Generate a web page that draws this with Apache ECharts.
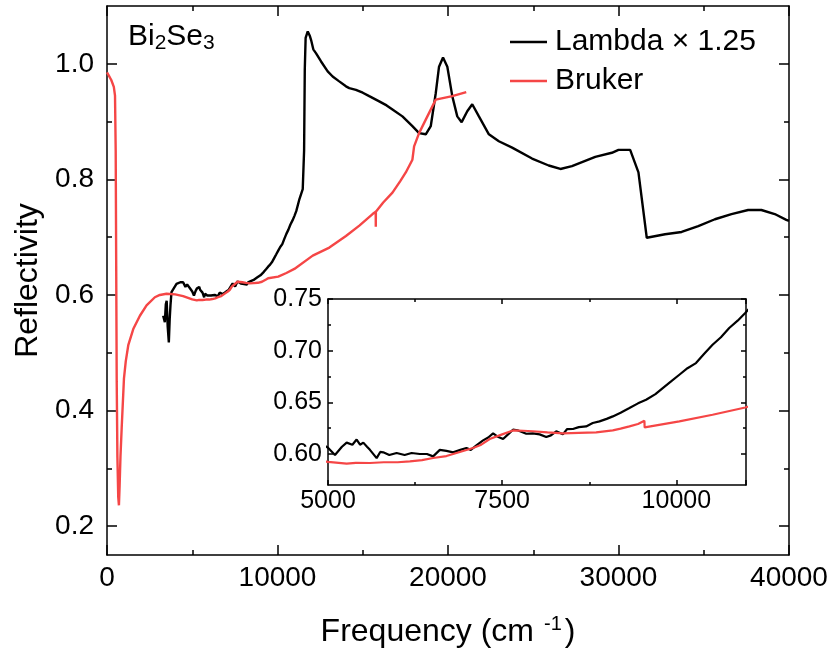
<!DOCTYPE html>
<html><head><meta charset="utf-8">
<script src="https://cdn.jsdelivr.net/npm/echarts@6/dist/echarts.min.js"></script>
<style>html,body{margin:0;padding:0;background:#fff}#c{width:837px;height:656px}</style>
</head><body><div id="c"></div>
<script>
// ---- data ----
const lambdaX = [3294,3392,3450,3500,3560,3626,3680,3723,3782,4076,4300,4464,4600,4700,4854,
 5000,5100,5200,5268,5350,5411,5460,5507,5560,5602,5698,5750,5793,5880,5985,6100,6200,6318,6420,6509,
 6605,6700,6796,6900,6987,7050,7130,7226,7300,7370,7430,7513,7600,7655,7720,7846,7940,8038,8133,8200,
 8276,8371,8430,8515,8600,8705,8800,8897,9000,9088,9200,9327,9450,9566,9700,9805,9920,10043,10160,
 10282,10400,10520,10640,10759,10880,10989,11100,11287,11480,11560,11600,11650,11774,11900,11971,12100,
 12263,12555,12943,13234,13600,14015,14211,14600,15000,15380,15965,16400,16743,17327,17912,18304,18696,
 18988,19281,19474,19708,19961,20251,20544,20800,21130,21422,21813,22398,22982,23762,24930,25906,26591,
 27270,28637,29610,30000,30684,31170,31657,32731,33703,34678,35655,36626,37602,38380,39164,39842,40000];
const lambdaY = [0.564,0.553,0.584,0.590,0.545,0.518,0.560,0.582,0.605,0.619,0.622,0.622,0.614,0.618,0.612,
 0.606,0.599,0.607,0.611,0.609,0.614,0.609,0.611,0.607,0.604,0.596,0.602,0.6016,0.599,0.601,0.599,0.601,0.600,0.600,0.5977,
 0.604,0.603,0.6016,0.604,0.6058,0.604,0.6083,0.6132,0.616,0.620,0.617,0.6145,0.620,0.6235,0.623,0.6196,0.620,0.619,0.6164,0.618,
 0.6219,0.619,0.624,0.6242,0.626,0.6267,0.630,0.6316,0.634,0.6364,0.640,0.6445,0.649,0.6525,0.658,0.6638,0.670,0.6767,0.683,
 0.688,0.697,0.7057,0.713,0.7219,0.729,0.7364,0.745,0.766,0.783,0.850,0.990,1.045,1.056,1.048,1.041,1.025,
 1.018,1.004,0.987,0.978,0.970,0.961,0.958,0.955,0.950,0.944,0.935,0.928,0.921,0.909,0.892,0.880,0.878,
 0.892,0.949,0.995,1.011,0.995,0.944,0.909,0.899,0.918,0.930,0.909,0.878,0.866,0.855,0.836,0.824,0.818,
 0.823,0.839,0.846,0.851,0.851,0.812,0.699,0.705,0.709,0.719,0.731,0.740,0.747,0.747,0.740,0.730,0.728];

const brukerX = [0,100,250,400,470,510,540,570,610,660,700,740,790,860,994,1100,1248,1540,1930,2320,2807,3100,3490,
 4000,4464,5000,5268,5400,5602,5800,6000,6175,6350,6509,6700,6844,7082,7200,7321,7500,7655,7800,7941,8150,8371,
 8600,8849,9088,9200,9327,9450,9542,9545,10043,10520,10989,12066,13041,14015,14800,15575,15760,15765,15770,16200,
 16743,17200,17524,17912,18012,18304,18790,19281,20251,21071];
const brukerY = [0.985,0.980,0.972,0.960,0.945,0.85,0.65,0.45,0.32,0.25,0.236,0.27,0.32,0.369,0.455,0.485,0.513,0.541,0.564,0.582,0.596,0.600,0.602,
 0.601,0.598,0.5923,0.5906,0.5915,0.5913,0.592,0.592,0.5929,0.594,0.5961,0.598,0.601,0.6058,0.609,0.6145,0.619,0.6228,0.6225,0.622,0.621,0.620,
 0.6205,0.621,0.6228,0.6245,0.6267,0.629,0.6322,0.6257,0.6316,0.638,0.645,0.668,0.682,0.702,0.720,0.740,0.744,0.718,0.744,0.760,
 0.777,0.797,0.812,0.834,0.857,0.880,0.909,0.938,0.944,0.951];

const mainYTicks = [0.2,0.4,0.6,0.8,1.0];
const mainYMinor = [0.3,0.5,0.7,0.9];
const insetYTicks = [0.60,0.65,0.70,0.75];
const insetYMinor = [0.625,0.675,0.725];
const seriesNames = ['Lambda \u00d7 1.25','Bruker'];

// ---- chart ----
const FONT = 'Liberation Sans, Arial, sans-serif';
const BLACK = '#000';
const RED = '#f54646';
const lambdaData = lambdaX.map((x,i)=>[x, lambdaY[i]]);
const brukerData = brukerX.map((x,i)=>[x, brukerY[i]]);

function xAx(grid, pos, min, max, interval, opts){
  return Object.assign({
    type:'value', gridIndex:grid, position:pos, min:min, max:max, interval:interval,
    axisLine:{show:true, onZero:false, lineStyle:{color:BLACK, width:1.5}},
    axisTick:{show:true, inside:true, length:opts.tl, lineStyle:{color:BLACK, width:1.5}},
    minorTick:{show:true, splitNumber:2, length:opts.ml, lineStyle:{color:BLACK, width:1.5}},
    splitLine:{show:false}, minorSplitLine:{show:false},
    axisLabel:{show:opts.label, fontSize:opts.fs, color:BLACK, fontFamily:FONT, margin:opts.margin,
      showMaxLabel:opts.showMax, formatter:(v)=>String(v)}
  }, opts.extra||{});
}
function yAx(grid, pos, min, max, values, opts){
  return Object.assign({
    type:'value', gridIndex:grid, position:pos, min:min, max:max,
    axisLine:{show:opts.line, onZero:false, lineStyle:{color:BLACK, width:1.5}},
    axisTick:{show:true, inside:true, length:opts.tl, customValues:values, lineStyle:{color:BLACK, width:1.5}},
    splitLine:{show:false},
    axisLabel:{show:opts.label, customValues:values, fontSize:opts.fs, color:BLACK, fontFamily:FONT, margin:opts.margin,
      formatter:(v)=>v.toFixed(opts.dec)}
  }, opts.extra||{});
}

const chart = echarts.init(document.getElementById('c'), null, {renderer:'canvas'});
chart.setOption({
  animation:false,
  backgroundColor:'#fff',
  textStyle:{fontFamily:FONT},
  title:{
    text:'{n|Bi}{s|2}{n|Se}{s|3}', left:123, top:14,
    textStyle:{fontWeight:'normal', rich:{
      n:{fontSize:30, fontFamily:FONT, fontWeight:'normal', color:BLACK, lineHeight:35},
      s:{fontSize:21, fontFamily:FONT, fontWeight:'normal', color:BLACK, lineHeight:16, verticalAlign:'bottom'}
    }}
  },
  legend:{
    data:seriesNames.map(n=>({name:n, icon:'rect'})), orient:'vertical', left:510, top:26, padding:0,
    itemWidth:37, itemHeight:2.5, itemGap:7,
    textStyle:{fontSize:30, fontFamily:FONT, color:BLACK, lineHeight:32, padding:[0,0,0,3]},
    selectedMode:false
  },
  grid:[
    {left:107, right:48, top:6, bottom:101, show:false},
    {left:328, right:91, top:299, bottom:171, show:true, backgroundColor:'#fff', borderWidth:0, z:5}
  ],
  xAxis:[
    xAx(0,'bottom',0,40000,10000,{tl:10, ml:5, label:true, fs:28, margin:9, showMax:true, extra:{
      name:'{a|Frequency (cm}{b|-1}{a|)}', nameLocation:'middle', nameGap:59,
      nameTextStyle:{rich:{
        a:{fontSize:32, fontFamily:FONT, color:BLACK, lineHeight:36},
        b:{fontSize:20, fontFamily:FONT, color:BLACK, lineHeight:20, verticalAlign:'top', padding:[0,3,0,10]}
      }}}}),
    xAx(0,'top',0,40000,10000,{tl:10, ml:5, label:false, fs:28, margin:8}),
    xAx(1,'bottom',5000,11000,2500,{tl:5, ml:3, label:true, fs:25, margin:4, showMax:false, extra:{z:6}}),
    xAx(1,'top',5000,11000,2500,{tl:5, ml:3, label:false, fs:25, margin:4, extra:{z:6}})
  ],
  yAxis:[
    yAx(0,'left',0.15,1.1,mainYTicks,{line:true, tl:10, label:true, fs:28, margin:13, dec:1, extra:{
      name:'Reflectivity', nameLocation:'middle', nameGap:63,
      nameTextStyle:{fontSize:32, fontFamily:FONT, color:BLACK}}}),
    yAx(0,'left',0.15,1.1,mainYMinor,{line:false, tl:5, label:false, fs:28, margin:8, dec:1}),
    yAx(0,'right',0.15,1.1,mainYTicks,{line:true, tl:10, label:false, fs:28, margin:8, dec:1}),
    yAx(0,'right',0.15,1.1,mainYMinor,{line:false, tl:5, label:false, fs:28, margin:8, dec:1}),
    yAx(1,'left',0.57,0.75,insetYTicks,{line:true, tl:5, label:true, fs:25, margin:6, dec:2, extra:{z:6}}),
    yAx(1,'left',0.57,0.75,insetYMinor,{line:false, tl:3, label:false, fs:25, margin:6, dec:2, extra:{z:6}}),
    yAx(1,'right',0.57,0.75,insetYTicks,{line:true, tl:5, label:false, fs:25, margin:6, dec:2, extra:{z:6}}),
    yAx(1,'right',0.57,0.75,insetYMinor,{line:false, tl:3, label:false, fs:25, margin:6, dec:2, extra:{z:6}})
  ],
  series:[
    {name:seriesNames[0], type:'line', xAxisIndex:0, yAxisIndex:0, data:lambdaData, showSymbol:false, symbol:'none',
      clip:true, lineStyle:{color:BLACK, width:2.4}, itemStyle:{color:BLACK}, z:2},
    {name:seriesNames[1], type:'line', xAxisIndex:0, yAxisIndex:0, data:brukerData, showSymbol:false, symbol:'none',
      clip:true, lineStyle:{color:RED, width:2.4}, itemStyle:{color:RED}, z:3},
    {name:seriesNames[0], type:'line', xAxisIndex:2, yAxisIndex:4, data:lambdaData, showSymbol:false, symbol:'none',
      clip:true, lineStyle:{color:BLACK, width:2.2}, itemStyle:{color:BLACK}, z:7},
    {name:seriesNames[1], type:'line', xAxisIndex:2, yAxisIndex:4, data:brukerData, showSymbol:false, symbol:'none',
      clip:true, lineStyle:{color:RED, width:2.2}, itemStyle:{color:RED}, z:8}
  ]
});
</script></body></html>
